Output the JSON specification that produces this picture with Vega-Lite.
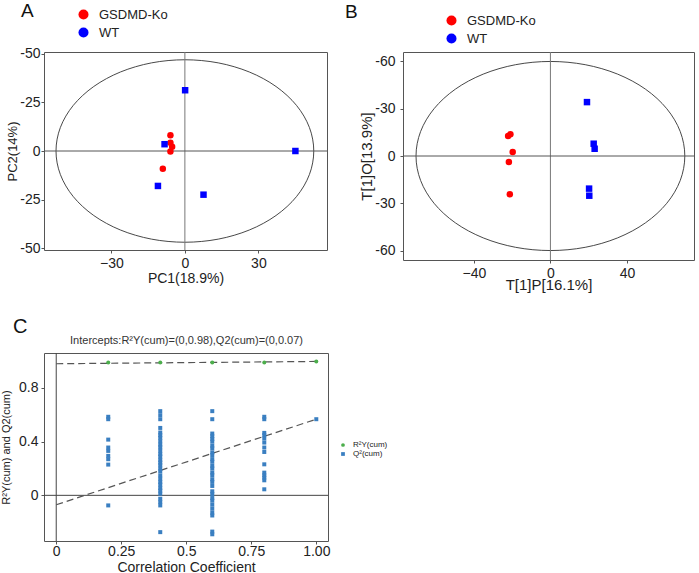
{
  "$schema": "https://vega.github.io/schema/vega-lite/v6.json",
  "background": "white",
  "padding": {"left": 0, "top": 1, "right": 0, "bottom": 0},
  "columns": 1,
  "align": "none",
  "spacing": 23,
  "resolve": {"scale": {"color": "independent", "shape": "independent", "x": "independent", "y": "independent"}, "legend": {"color": "independent", "shape": "independent"}},
  "config": {
    "font": "Liberation Sans",
    "view": {"stroke": "#555", "strokeWidth": 1},
    "axis": {"grid": false, "domain": false, "tickSize": 3, "tickColor": "#555", "labelFontSize": 14, "labelColor": "#222", "titleFontSize": 14, "titleFontWeight": "normal", "titleColor": "#222", "labelPadding": 3},
    "legend": {"padding": 0, "labelColor": "#222"},
    "title": {"fontWeight": "normal", "color": "#111", "font": "Liberation Sans"}
  },
  "datasets": {
    "pcaA": [
      {"group": "GSDMD-Ko", "x": -5.9, "y": -8.1},
      {"group": "GSDMD-Ko", "x": -5.9, "y": -4.3},
      {"group": "GSDMD-Ko", "x": -5.2, "y": -2.2},
      {"group": "GSDMD-Ko", "x": -5.9, "y": 0.2},
      {"group": "GSDMD-Ko", "x": -9.0, "y": 9.1},
      {"group": "WT", "x": 0.1, "y": -31.3},
      {"group": "WT", "x": -8.3, "y": -3.5},
      {"group": "WT", "x": -11.0, "y": 18.0},
      {"group": "WT", "x": 7.6, "y": 22.5},
      {"group": "WT", "x": 45.1, "y": 0}
    ],
    "ellA": [
      {"i": 0, "x": 52.6, "y": 0}, {"i": 1, "x": 50.81, "y": 12.16}, {"i": 2, "x": 45.55, "y": 23.5},
      {"i": 3, "x": 37.19, "y": 33.23}, {"i": 4, "x": 26.3, "y": 40.7}, {"i": 5, "x": 13.61, "y": 45.4},
      {"i": 6, "x": 0, "y": 47}, {"i": 7, "x": -13.61, "y": 45.4}, {"i": 8, "x": -26.3, "y": 40.7},
      {"i": 9, "x": -37.19, "y": 33.23}, {"i": 10, "x": -45.55, "y": 23.5}, {"i": 11, "x": -50.81, "y": 12.16},
      {"i": 12, "x": -52.6, "y": 0}, {"i": 13, "x": -50.81, "y": -12.16}, {"i": 14, "x": -45.55, "y": -23.5},
      {"i": 15, "x": -37.19, "y": -33.23}, {"i": 16, "x": -26.3, "y": -40.7}, {"i": 17, "x": -13.61, "y": -45.4},
      {"i": 18, "x": 0, "y": -47}, {"i": 19, "x": 13.61, "y": -45.4}, {"i": 20, "x": 26.3, "y": -40.7},
      {"i": 21, "x": 37.19, "y": -33.23}, {"i": 22, "x": 45.55, "y": -23.5}, {"i": 23, "x": 50.81, "y": -12.16}
    ],
    "oplsB": [
      {"group": "GSDMD-Ko", "x": -22.1, "y": -12.7},
      {"group": "GSDMD-Ko", "x": -20.9, "y": -13.8},
      {"group": "GSDMD-Ko", "x": -19.7, "y": -2.5},
      {"group": "GSDMD-Ko", "x": -21.7, "y": 3.8},
      {"group": "GSDMD-Ko", "x": -21.2, "y": 24.3},
      {"group": "WT", "x": 19.1, "y": -34.2},
      {"group": "WT", "x": 22.6, "y": -7.8},
      {"group": "WT", "x": 23.1, "y": -4.6},
      {"group": "WT", "x": 20.2, "y": 20.7},
      {"group": "WT", "x": 20.3, "y": 25.2}
    ],
    "ellB": [
      {"i": 0, "x": 70.2, "y": 0}, {"i": 1, "x": 67.81, "y": 15.53}, {"i": 2, "x": 60.79, "y": 30},
      {"i": 3, "x": 49.64, "y": 42.43}, {"i": 4, "x": 35.1, "y": 51.96}, {"i": 5, "x": 18.17, "y": 57.95},
      {"i": 6, "x": 0, "y": 60}, {"i": 7, "x": -18.17, "y": 57.95}, {"i": 8, "x": -35.1, "y": 51.96},
      {"i": 9, "x": -49.64, "y": 42.43}, {"i": 10, "x": -60.79, "y": 30}, {"i": 11, "x": -67.81, "y": 15.53},
      {"i": 12, "x": -70.2, "y": 0}, {"i": 13, "x": -67.81, "y": -15.53}, {"i": 14, "x": -60.79, "y": -30},
      {"i": 15, "x": -49.64, "y": -42.43}, {"i": 16, "x": -35.1, "y": -51.96}, {"i": 17, "x": -18.17, "y": -57.95},
      {"i": 18, "x": 0, "y": -60}, {"i": 19, "x": 18.17, "y": -57.95}, {"i": 20, "x": 35.1, "y": -51.96},
      {"i": 21, "x": 49.64, "y": -42.43}, {"i": 22, "x": 60.79, "y": -30}, {"i": 23, "x": 67.81, "y": -15.53}
    ],
    "perm": [
      {"series": "R²Y(cum)", "r": 0.2, "v": 0.99},
      {"series": "R²Y(cum)", "r": 0.4, "v": 0.99},
      {"series": "R²Y(cum)", "r": 0.6, "v": 0.99},
      {"series": "R²Y(cum)", "r": 0.8, "v": 0.99},
      {"series": "R²Y(cum)", "r": 1.0, "v": 0.997},
      {"series": "Q²(cum)", "r": 0.2, "v": 0.585},
      {"series": "Q²(cum)", "r": 0.2, "v": 0.567},
      {"series": "Q²(cum)", "r": 0.2, "v": 0.415},
      {"series": "Q²(cum)", "r": 0.2, "v": 0.356},
      {"series": "Q²(cum)", "r": 0.2, "v": 0.331},
      {"series": "Q²(cum)", "r": 0.2, "v": 0.294},
      {"series": "Q²(cum)", "r": 0.2, "v": 0.269},
      {"series": "Q²(cum)", "r": 0.2, "v": 0.229},
      {"series": "Q²(cum)", "r": 0.2, "v": -0.075},
      {"series": "Q²(cum)", "r": 0.4, "v": 0.627},
      {"series": "Q²(cum)", "r": 0.4, "v": 0.597},
      {"series": "Q²(cum)", "r": 0.4, "v": 0.567},
      {"series": "Q²(cum)", "r": 0.4, "v": 0.502},
      {"series": "Q²(cum)", "r": 0.4, "v": 0.468},
      {"series": "Q²(cum)", "r": 0.4, "v": 0.448},
      {"series": "Q²(cum)", "r": 0.4, "v": 0.428},
      {"series": "Q²(cum)", "r": 0.4, "v": 0.403},
      {"series": "Q²(cum)", "r": 0.4, "v": 0.378},
      {"series": "Q²(cum)", "r": 0.4, "v": 0.358},
      {"series": "Q²(cum)", "r": 0.4, "v": 0.333},
      {"series": "Q²(cum)", "r": 0.4, "v": 0.308},
      {"series": "Q²(cum)", "r": 0.4, "v": 0.289},
      {"series": "Q²(cum)", "r": 0.4, "v": 0.264},
      {"series": "Q²(cum)", "r": 0.4, "v": 0.244},
      {"series": "Q²(cum)", "r": 0.4, "v": 0.224},
      {"series": "Q²(cum)", "r": 0.4, "v": 0.199},
      {"series": "Q²(cum)", "r": 0.4, "v": 0.179},
      {"series": "Q²(cum)", "r": 0.4, "v": 0.149},
      {"series": "Q²(cum)", "r": 0.4, "v": 0.124},
      {"series": "Q²(cum)", "r": 0.4, "v": 0.1},
      {"series": "Q²(cum)", "r": 0.4, "v": 0.08},
      {"series": "Q²(cum)", "r": 0.4, "v": 0.055},
      {"series": "Q²(cum)", "r": 0.4, "v": 0.035},
      {"series": "Q²(cum)", "r": 0.4, "v": 0.012},
      {"series": "Q²(cum)", "r": 0.4, "v": -0.025},
      {"series": "Q²(cum)", "r": 0.4, "v": -0.05},
      {"series": "Q²(cum)", "r": 0.4, "v": -0.075},
      {"series": "Q²(cum)", "r": 0.4, "v": -0.274},
      {"series": "Q²(cum)", "r": 0.6, "v": 0.627},
      {"series": "Q²(cum)", "r": 0.6, "v": 0.567},
      {"series": "Q²(cum)", "r": 0.6, "v": 0.46},
      {"series": "Q²(cum)", "r": 0.6, "v": 0.44},
      {"series": "Q²(cum)", "r": 0.6, "v": 0.42},
      {"series": "Q²(cum)", "r": 0.6, "v": 0.4},
      {"series": "Q²(cum)", "r": 0.6, "v": 0.37},
      {"series": "Q²(cum)", "r": 0.6, "v": 0.35},
      {"series": "Q²(cum)", "r": 0.6, "v": 0.32},
      {"series": "Q²(cum)", "r": 0.6, "v": 0.3},
      {"series": "Q²(cum)", "r": 0.6, "v": 0.27},
      {"series": "Q²(cum)", "r": 0.6, "v": 0.25},
      {"series": "Q²(cum)", "r": 0.6, "v": 0.22},
      {"series": "Q²(cum)", "r": 0.6, "v": 0.2},
      {"series": "Q²(cum)", "r": 0.6, "v": 0.17},
      {"series": "Q²(cum)", "r": 0.6, "v": 0.15},
      {"series": "Q²(cum)", "r": 0.6, "v": 0.12},
      {"series": "Q²(cum)", "r": 0.6, "v": 0.1},
      {"series": "Q²(cum)", "r": 0.6, "v": 0.07},
      {"series": "Q²(cum)", "r": 0.6, "v": 0.03},
      {"series": "Q²(cum)", "r": 0.6, "v": 0.01},
      {"series": "Q²(cum)", "r": 0.6, "v": -0.02},
      {"series": "Q²(cum)", "r": 0.6, "v": -0.04},
      {"series": "Q²(cum)", "r": 0.6, "v": -0.07},
      {"series": "Q²(cum)", "r": 0.6, "v": -0.1},
      {"series": "Q²(cum)", "r": 0.6, "v": -0.13},
      {"series": "Q²(cum)", "r": 0.6, "v": -0.15},
      {"series": "Q²(cum)", "r": 0.6, "v": -0.27},
      {"series": "Q²(cum)", "r": 0.6, "v": -0.29},
      {"series": "Q²(cum)", "r": 0.8, "v": 0.585},
      {"series": "Q²(cum)", "r": 0.8, "v": 0.567},
      {"series": "Q²(cum)", "r": 0.8, "v": 0.465},
      {"series": "Q²(cum)", "r": 0.8, "v": 0.448},
      {"series": "Q²(cum)", "r": 0.8, "v": 0.423},
      {"series": "Q²(cum)", "r": 0.8, "v": 0.393},
      {"series": "Q²(cum)", "r": 0.8, "v": 0.356},
      {"series": "Q²(cum)", "r": 0.8, "v": 0.323},
      {"series": "Q²(cum)", "r": 0.8, "v": 0.231},
      {"series": "Q²(cum)", "r": 0.8, "v": 0.169},
      {"series": "Q²(cum)", "r": 0.8, "v": 0.149},
      {"series": "Q²(cum)", "r": 0.8, "v": 0.132},
      {"series": "Q²(cum)", "r": 0.8, "v": 0.112},
      {"series": "Q²(cum)", "r": 0.8, "v": 0.045},
      {"series": "Q²(cum)", "r": 1.0, "v": 0.567}
    ],
    "permLines": [
      {"series": "R2Y", "r": 0, "v": 0.98},
      {"series": "R2Y", "r": 1.0, "v": 0.997},
      {"series": "Q2", "r": 0, "v": -0.07},
      {"series": "Q2", "r": 1.0, "v": 0.567}
    ]
  },
  "concat": [
    {
      "bounds": "flush",
      "spacing": 76,
      "resolve": {"scale": {"color": "independent", "shape": "independent", "x": "independent", "y": "independent"}, "legend": {"color": "independent", "shape": "independent"}},
      "hconcat": [
        {
          "width": 283,
          "height": 198,
          "title": {"text": "A", "anchor": "start", "frame": "group", "dx": -23, "offset": -13, "fontSize": 19},
          "layer": [
            {
              "data": {"name": "ellA"},
              "mark": {"type": "line", "interpolate": "cardinal-closed", "stroke": "#333", "strokeWidth": 0.9},
              "encoding": {
                "x": {"field": "x", "type": "quantitative", "title": "PC1(18.9%)", "scale": {"domain": [-57.5, 58], "nice": false, "zero": false}, "axis": {"values": [-30, 0, 30], "titlePadding": 1, "labelPadding": 3}},
                "y": {"field": "y", "type": "quantitative", "title": "PC2(14%)", "scale": {"domain": [-51, 51], "reverse": true, "nice": false, "zero": false}, "axis": {"values": [-50, -25, 0, 25, 50], "labelExpr": "datum.value == 0 ? '0' : '-' + abs(datum.value)", "titlePadding": 0, "labelPadding": 1, "titleFontSize": 13}},
                "order": {"field": "i", "type": "quantitative"}
              }
            },
            {
              "data": {"values": [{}]},
              "mark": {"type": "rule", "stroke": "#777", "strokeWidth": 1},
              "encoding": {"x": {"datum": 0, "type": "quantitative", "title": "PC1(18.9%)", "axis": {"values": [-30, 0, 30], "titlePadding": 1, "labelPadding": 3}}}
            },
            {
              "data": {"values": [{}]},
              "mark": {"type": "rule", "stroke": "#555", "strokeWidth": 1},
              "encoding": {"y": {"datum": 0, "type": "quantitative", "title": "PC2(14%)", "axis": {"values": [-50, -25, 0, 25, 50], "labelExpr": "datum.value == 0 ? '0' : '-' + abs(datum.value)", "titlePadding": 0, "labelPadding": 1, "titleFontSize": 13}}}
            },
            {
              "data": {"name": "pcaA"},
              "transform": [{"filter": "datum.group == 'GSDMD-Ko'"}],
              "mark": {"type": "point", "shape": "circle", "filled": true, "opacity": 1, "size": 42},
              "encoding": {
                "x": {"field": "x", "type": "quantitative", "title": "PC1(18.9%)", "axis": {"values": [-30, 0, 30], "titlePadding": 1, "labelPadding": 3}},
                "y": {"field": "y", "type": "quantitative", "title": "PC2(14%)", "axis": {"values": [-50, -25, 0, 25, 50], "labelExpr": "datum.value == 0 ? '0' : '-' + abs(datum.value)", "titlePadding": 0, "labelPadding": 1, "titleFontSize": 13}},
                "color": {"field": "group", "type": "nominal", "scale": {"domain": ["GSDMD-Ko", "WT"], "range": ["#ff0000", "#0000ff"]},
                  "legend": {"title": null, "orient": "none", "legendX": 33, "legendY": -44, "symbolType": "circle", "symbolSize": 100, "labelFontSize": 13, "rowPadding": 4, "labelOffset": 9}}
              }
            },
            {
              "data": {"name": "pcaA"},
              "transform": [{"filter": "datum.group == 'WT'"}],
              "mark": {"type": "point", "shape": "square", "filled": true, "opacity": 1, "size": 42},
              "encoding": {
                "x": {"field": "x", "type": "quantitative", "title": "PC1(18.9%)", "axis": {"values": [-30, 0, 30], "titlePadding": 1, "labelPadding": 3}},
                "y": {"field": "y", "type": "quantitative", "title": "PC2(14%)", "axis": {"values": [-50, -25, 0, 25, 50], "labelExpr": "datum.value == 0 ? '0' : '-' + abs(datum.value)", "titlePadding": 0, "labelPadding": 1, "titleFontSize": 13}},
                "color": {"field": "group", "type": "nominal", "scale": {"domain": ["GSDMD-Ko", "WT"], "range": ["#ff0000", "#0000ff"]},
                  "legend": {"title": null, "orient": "none", "legendX": 33, "legendY": -44, "symbolType": "circle", "symbolSize": 100, "labelFontSize": 13, "rowPadding": 4, "labelOffset": 9}}
              }
            }
          ]
        },
        {
          "width": 291,
          "height": 208,
          "title": {"text": "B", "anchor": "start", "frame": "group", "dx": -58, "offset": -8, "fontSize": 19},
          "layer": [
            {
              "data": {"name": "ellB"},
              "mark": {"type": "line", "interpolate": "cardinal-closed", "stroke": "#333", "strokeWidth": 0.9},
              "encoding": {
                "x": {"field": "x", "type": "quantitative", "title": "T[1]P[16.1%]", "scale": {"domain": [-77, 75], "nice": false, "zero": false}, "axis": {"values": [-40, 0, 40], "titlePadding": -3, "titleFontSize": 15}},
                "y": {"field": "y", "type": "quantitative", "title": "T[1]O[13.9%]", "scale": {"domain": [-66, 66], "reverse": true, "nice": false, "zero": false}, "axis": {"values": [-60, -30, 0, 30, 60], "labelExpr": "datum.value == 0 ? '0' : '-' + abs(datum.value)", "titlePadding": 0, "labelPadding": 5, "titleFontSize": 15}},
                "order": {"field": "i", "type": "quantitative"}
              }
            },
            {
              "data": {"values": [{}]},
              "mark": {"type": "rule", "stroke": "#777", "strokeWidth": 1},
              "encoding": {"x": {"datum": 0, "type": "quantitative", "title": "T[1]P[16.1%]", "axis": {"values": [-40, 0, 40], "titlePadding": -3, "titleFontSize": 15}}}
            },
            {
              "data": {"values": [{}]},
              "mark": {"type": "rule", "stroke": "#555", "strokeWidth": 1},
              "encoding": {"y": {"datum": 0, "type": "quantitative", "title": "T[1]O[13.9%]", "axis": {"values": [-60, -30, 0, 30, 60], "labelExpr": "datum.value == 0 ? '0' : '-' + abs(datum.value)", "titlePadding": 0, "labelPadding": 5, "titleFontSize": 15}}}
            },
            {
              "data": {"name": "oplsB"},
              "transform": [{"filter": "datum.group == 'GSDMD-Ko'"}],
              "mark": {"type": "point", "shape": "circle", "filled": true, "opacity": 1, "size": 42},
              "encoding": {
                "x": {"field": "x", "type": "quantitative", "title": "T[1]P[16.1%]", "axis": {"values": [-40, 0, 40], "titlePadding": -3, "titleFontSize": 15}},
                "y": {"field": "y", "type": "quantitative", "title": "T[1]O[13.9%]", "axis": {"values": [-60, -30, 0, 30, 60], "labelExpr": "datum.value == 0 ? '0' : '-' + abs(datum.value)", "titlePadding": 0, "labelPadding": 5, "titleFontSize": 15}},
                "color": {"field": "group", "type": "nominal", "scale": {"domain": ["GSDMD-Ko", "WT"], "range": ["#ff0000", "#0000ff"]},
                  "legend": {"title": null, "orient": "none", "legendX": 42, "legendY": -38, "symbolType": "circle", "symbolSize": 100, "labelFontSize": 13, "rowPadding": 4, "labelOffset": 9}}
              }
            },
            {
              "data": {"name": "oplsB"},
              "transform": [{"filter": "datum.group == 'WT'"}],
              "mark": {"type": "point", "shape": "square", "filled": true, "opacity": 1, "size": 42},
              "encoding": {
                "x": {"field": "x", "type": "quantitative", "title": "T[1]P[16.1%]", "axis": {"values": [-40, 0, 40], "titlePadding": -3, "titleFontSize": 15}},
                "y": {"field": "y", "type": "quantitative", "title": "T[1]O[13.9%]", "axis": {"values": [-60, -30, 0, 30, 60], "labelExpr": "datum.value == 0 ? '0' : '-' + abs(datum.value)", "titlePadding": 0, "labelPadding": 5, "titleFontSize": 15}},
                "color": {"field": "group", "type": "nominal", "scale": {"domain": ["GSDMD-Ko", "WT"], "range": ["#ff0000", "#0000ff"]},
                  "legend": {"title": null, "orient": "none", "legendX": 42, "legendY": -38, "symbolType": "circle", "symbolSize": 100, "labelFontSize": 13, "rowPadding": 4, "labelOffset": 9}}
              }
            }
          ]
        }
      ]
    },
    {
      "width": 284,
      "height": 188,
      "title": {"text": "C", "anchor": "start", "frame": "group", "dx": -31, "offset": -3, "fontSize": 20},
      "resolve": {"axis": {"x": "independent"}},
      "layer": [
        {
          "data": {"values": [{}]},
          "mark": {"type": "rule", "stroke": "#444", "strokeWidth": 1},
          "encoding": {"x": {"datum": 0, "type": "quantitative", "axis": null}}
        },
        {
          "data": {"values": [{}]},
          "mark": {"type": "rule", "stroke": "#444", "strokeWidth": 1},
          "encoding": {"y": {"datum": 0, "type": "quantitative", "title": "R²Y(cum) and Q2(cum)", "axis": {"values": [0, 0.4, 0.8], "labelExpr": "datum.value == 0 ? '0' : format(datum.value, '.1f')", "titleFontSize": 11, "titlePadding": 7}}}
        },
        {
          "data": {"name": "permLines"},
          "mark": {"type": "line", "strokeDash": [7, 4], "stroke": "#555", "strokeWidth": 1.2},
          "encoding": {
            "x": {"field": "r", "type": "quantitative", "scale": {"domain": [-0.047, 1.045], "nice": false, "zero": false},
              "axis": {"orient": "top", "title": "Intercepts:R²Y(cum)=(0,0.98),Q2(cum)=(0,0.07)", "labels": false, "ticks": false, "domain": false, "titleFontSize": 11, "titlePadding": 8, "titleColor": "#333"}},
            "y": {"field": "v", "type": "quantitative", "title": "R²Y(cum) and Q2(cum)", "axis": {"values": [0, 0.4, 0.8], "labelExpr": "datum.value == 0 ? '0' : format(datum.value, '.1f')", "titleFontSize": 11, "titlePadding": 7}},
            "detail": {"field": "series", "type": "nominal"}
          }
        },
        {
          "data": {"name": "perm"},
          "mark": {"type": "point", "filled": true, "opacity": 1, "size": 16},
          "encoding": {
            "x": {"field": "r", "type": "quantitative", "title": "Correlation Coefficient",
              "axis": {"values": [0, 0.25, 0.5, 0.75, 1], "labelExpr": "datum.value == 0 ? '0' : datum.value == 0.5 ? '0.5' : format(datum.value, '.2f')", "titleFontSize": 14, "titlePadding": 2, "labelPadding": 0}},
            "y": {"field": "v", "type": "quantitative", "title": "R²Y(cum) and Q2(cum)", "scale": {"domain": [-0.34, 1.06], "nice": false, "zero": false},
              "axis": {"values": [0, 0.4, 0.8], "labelExpr": "datum.value == 0 ? '0' : format(datum.value, '.1f')", "titleFontSize": 11, "titlePadding": 7}},
            "color": {"field": "series", "type": "nominal", "scale": {"domain": ["R²Y(cum)", "Q²(cum)"], "range": ["#4cae4c", "#3a7fc1"]},
              "legend": {"title": null, "orient": "none", "legendX": 295, "legendY": 88, "symbolSize": 14, "labelFontSize": 8, "rowPadding": 1, "labelOffset": 6}},
            "shape": {"field": "series", "type": "nominal", "scale": {"domain": ["R²Y(cum)", "Q²(cum)"], "range": ["circle", "square"]},
              "legend": {"title": null, "orient": "none", "legendX": 295, "legendY": 88, "symbolSize": 14, "labelFontSize": 8, "rowPadding": 1, "labelOffset": 6}}
          }
        }
      ]
    }
  ]
}
